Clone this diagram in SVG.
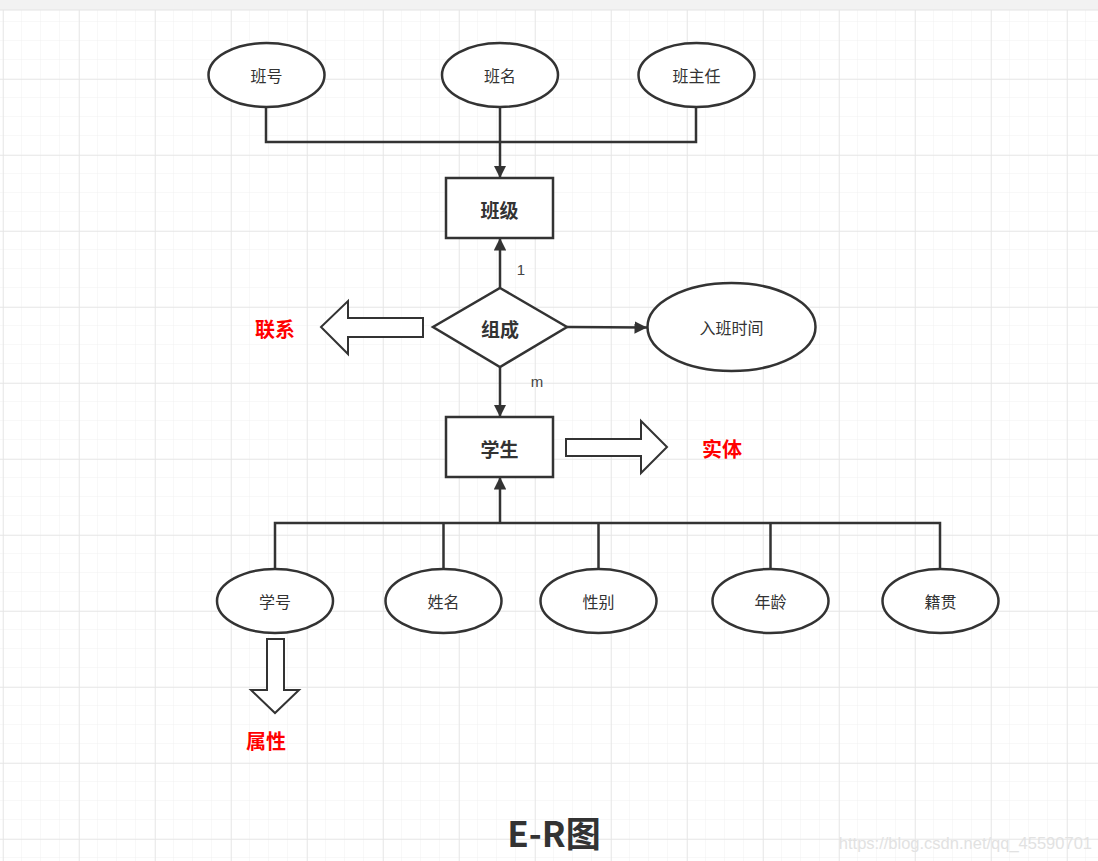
<svg xmlns="http://www.w3.org/2000/svg" width="1098" height="861" viewBox="0 0 1098 861">
<defs>
<pattern id="minor" x="3" y="3" width="19" height="19" patternUnits="userSpaceOnUse">
<path d="M19 0V19M0 19H19" fill="none" stroke="#f0f0f0" stroke-width="1"/>
</pattern>
<pattern id="major" x="3" y="3" width="76" height="76" patternUnits="userSpaceOnUse">
<path d="M0 0V76M0 0H76" fill="none" stroke="#e6e6e6" stroke-width="1.5"/>
</pattern>
<marker id="arr" viewBox="0 0 10 10" refX="10" refY="5" markerWidth="5" markerHeight="5" orient="auto" markerUnits="strokeWidth">
<path d="M0 0L10 5L0 10z" fill="#333"/>
</marker>
<style>
.shape{fill:#fff;stroke:#333;stroke-width:2.5}
.edge{fill:none;stroke:#333;stroke-width:2.5}
.t{font-family:"Noto Sans CJK SC","Liberation Sans",sans-serif;fill:#333;text-anchor:middle;dominant-baseline:central}
.attr{font-size:16px}
.bold{font-size:19px;font-weight:bold}
.lbl{font-family:"Liberation Sans",sans-serif;font-size:15px;fill:#444;dominant-baseline:central;text-anchor:middle}
.red{font-family:"Noto Sans CJK SC","Liberation Sans",sans-serif;fill:#ff0000;font-size:20px;font-weight:bold;text-anchor:middle;dominant-baseline:central}
.hollow{fill:#fff;stroke:#333;stroke-width:2}
</style>
</defs>
<rect width="1098" height="861" fill="#fff"/>
<rect y="10" width="1098" height="851" fill="url(#minor)"/>
<rect y="10" width="1098" height="851" fill="url(#major)"/>
<rect width="1098" height="10" fill="#f2f2f2"/>
<line x1="0" y1="10" x2="1098" y2="10" stroke="#e4e4e4"/>

<g id="connectors">
<path class="edge" d="M266 107V142H696V107"/>
<path class="edge" d="M500 107V178" marker-end="url(#arr)"/>
<path class="edge" d="M500 288V238" marker-end="url(#arr)"/>
<path class="edge" d="M567 327L647 327.5" marker-end="url(#arr)"/>
<path class="edge" d="M500 367V417" marker-end="url(#arr)"/>
<path class="edge" d="M500 523V477" marker-end="url(#arr)"/>
<path class="edge" d="M275 569V523H940V569M443.5 523V569M598.5 523V569M770.5 523V569"/>
<text class="lbl" x="521" y="269">1</text>
<text class="lbl" x="537" y="381">m</text>
</g>

<g id="n-banhao"><ellipse class="shape" cx="266.5" cy="75" rx="58" ry="32"/><text class="t attr" x="266.5" y="75">班号</text></g>
<g id="n-banming"><ellipse class="shape" cx="500" cy="75" rx="58" ry="32"/><text class="t attr" x="500" y="75">班名</text></g>
<g id="n-banzhuren"><ellipse class="shape" cx="696.5" cy="75" rx="58" ry="32"/><text class="t attr" x="696.5" y="75">班主任</text></g>
<g id="n-banji"><rect class="shape" x="446" y="178" width="107" height="60"/><text class="t bold" x="499.5" y="209">班级</text></g>
<g id="n-zucheng"><polygon class="shape" points="500,288 567,327 500,367 433,327"/><text class="t bold" x="500" y="328">组成</text></g>
<g id="n-rubanshijian"><ellipse class="shape" cx="731.5" cy="327" rx="84" ry="44"/><text class="t attr" x="731.5" y="327">入班时间</text></g>
<g id="n-xuesheng"><rect class="shape" x="446" y="417" width="107" height="60"/><text class="t bold" x="499.5" y="448">学生</text></g>
<g id="n-xuehao"><ellipse class="shape" cx="275" cy="601" rx="58" ry="32"/><text class="t attr" x="275" y="601">学号</text></g>
<g id="n-xingming"><ellipse class="shape" cx="443.5" cy="601" rx="58" ry="32"/><text class="t attr" x="443.5" y="601">姓名</text></g>
<g id="n-xingbie"><ellipse class="shape" cx="598.5" cy="601" rx="58" ry="32"/><text class="t attr" x="598.5" y="601">性别</text></g>
<g id="n-nianling"><ellipse class="shape" cx="770.5" cy="601" rx="58" ry="32"/><text class="t attr" x="770.5" y="601">年龄</text></g>
<g id="n-jiguan"><ellipse class="shape" cx="940.5" cy="601" rx="58" ry="32"/><text class="t attr" x="940.5" y="601">籍贯</text></g>

<g id="callout-lianxi">
<polygon class="hollow" points="423,318 348,318 348,301 321,327 348,354 348,337 423,337"/>
<text class="red" x="275" y="328">联系</text>
</g>
<g id="callout-shiti">
<polygon class="hollow" points="566,439 641,439 641,421 667,447 641,473 641,456 566,456"/>
<text class="red" x="722" y="448">实体</text>
</g>
<g id="callout-shuxing">
<polygon class="hollow" points="267,639 284,639 284,690 299,690 275,713 251,690 267,690"/>
<text class="red" x="266" y="740">属性</text>
</g>

<text x="554" y="831" font-family="'Noto Sans CJK SC','Liberation Sans',sans-serif" font-size="35" font-weight="bold" fill="#333" text-anchor="middle" dominant-baseline="central">E-R图</text>
<text x="1092" y="843" font-family="'Liberation Sans',sans-serif" font-size="16.5" fill="#e2e2e2" text-anchor="end" dominant-baseline="central">https://blog.csdn.net/qq_45590701</text>
</svg>
